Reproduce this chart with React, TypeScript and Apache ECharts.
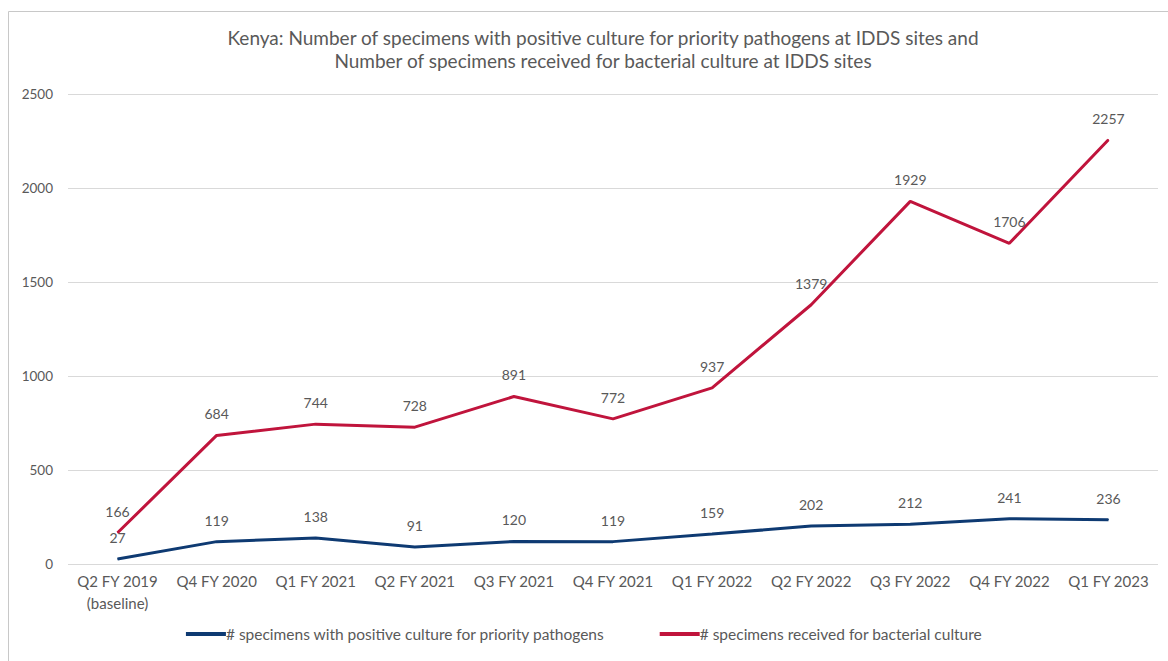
import React, { useEffect, useRef } from "react";
import * as echarts from "echarts";

const categories = [
  "Q2 FY 2019\n(baseline)",
  "Q4 FY 2020",
  "Q1 FY 2021",
  "Q2 FY 2021",
  "Q3 FY 2021",
  "Q4 FY 2021",
  "Q1 FY 2022",
  "Q2 FY 2022",
  "Q3 FY 2022",
  "Q4 FY 2022",
  "Q1 FY 2023",
];
const positiveCulture = [27, 119, 138, 91, 120, 119, 159, 202, 212, 241, 236];
const receivedCulture = [166, 684, 744, 728, 891, 772, 937, 1379, 1929, 1706, 2257];

const titleText =
  "Kenya: Number of specimens with positive culture for priority pathogens at IDDS sites and\nNumber of specimens received for bacterial culture at IDDS sites";
const seriesNames = [
  "# specimens with positive culture for priority pathogens",
  "# specimens received for bacterial culture",
];

const FONT = "Lato, 'Open Sans', sans-serif";
const TEXT = "#595959";
const BLUE = "#0e3a72";
const RED = "#c0143c";

export default function App() {
  const ref = useRef<HTMLDivElement>(null);
  useEffect(() => {
    if (!ref.current) return;
    const chart = echarts.init(ref.current, undefined, { renderer: "svg" });
    const labelCfg = {
      show: true,
      position: "top",
      distance: 14,
      fontFamily: FONT,
      fontSize: 14,
      color: TEXT,
    };
    chart.setOption({
      animation: false,
      backgroundColor: "#ffffff",
      textStyle: { fontFamily: FONT },
      graphic: [
        {
          type: "rect",
          shape: { x: 8.5, y: 11.5, width: 1200, height: 700 },
          style: { fill: "none", stroke: "#c8c8c8", lineWidth: 1 },
          silent: true,
        },
      ],
      title: {
        text: titleText,
        left: 598,
        textAlign: "center",
        top: 21,
        textStyle: {
          fontFamily: FONT,
          fontSize: 19,
          fontWeight: "normal",
          color: TEXT,
          lineHeight: 23,
        },
      },
      legend: {
        bottom: 14,
        left: "center",
        icon: "rect",
        itemWidth: 40,
        itemHeight: 4,
        itemGap: 55,
        textStyle: { fontFamily: FONT, fontSize: 15.5, color: TEXT, padding: [0, 0, 0, -5] },
        data: seriesNames,
      },
      grid: { left: 68, right: 10, top: 94, bottom: 97, containLabel: false },
      xAxis: {
        type: "category",
        data: categories,
        boundaryGap: true,
        axisLine: { show: false },
        axisTick: { show: false },
        axisLabel: {
          fontFamily: FONT,
          fontSize: 15,
          color: TEXT,
          margin: 6,
          lineHeight: 22,
          interval: 0,
        },
      },
      yAxis: {
        type: "value",
        min: 0,
        max: 2500,
        interval: 500,
        axisLine: { show: false },
        axisTick: { show: false },
        axisLabel: {
          fontFamily: FONT,
          fontSize: 13.5,
          color: TEXT,
          margin: 15,
          formatter: (v: number) => String(v),
        },
        splitLine: { lineStyle: { color: "#d9d9d9", width: 1 } },
      },
      series: [
        {
          name: seriesNames[0],
          type: "line",
          data: positiveCulture,
          symbol: "circle",
          symbolSize: 1,
          lineStyle: { color: BLUE, width: 3 },
          itemStyle: { color: BLUE },
          label: labelCfg,
          z: 3,
        },
        {
          name: seriesNames[1],
          type: "line",
          data: receivedCulture,
          symbol: "circle",
          symbolSize: 1,
          lineStyle: { color: RED, width: 3 },
          itemStyle: { color: RED },
          label: labelCfg,
          z: 2,
        },
      ],
    });
    return () => chart.dispose();
  }, []);
  return (
    <div
      ref={ref}
      style={{ position: "absolute", left: 0, top: 0, width: 1168, height: 661 }}
    />
  );
}
